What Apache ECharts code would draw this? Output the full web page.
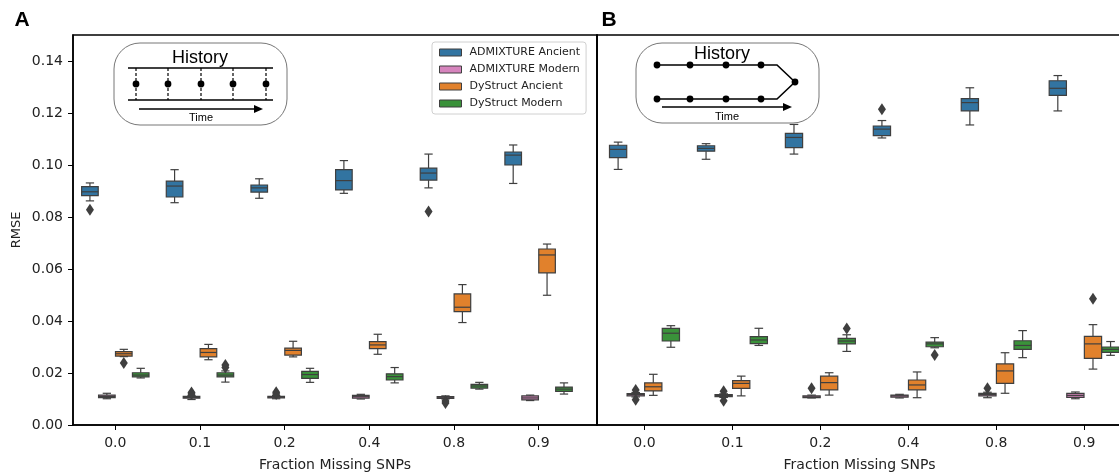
<!DOCTYPE html>
<html>
<head>
<meta charset="utf-8">
<script src="https://cdn.jsdelivr.net/npm/echarts@6/dist/echarts.min.js"></script>
<style>
html, body { margin: 0; padding: 0; background: #fff; }
#main { width: 1119px; height: 472px; }
</style>
</head>
<body>
<div id="main"></div>
<script>
var categories = ['0.0', '0.1', '0.2', '0.4', '0.8', '0.9'];
var yTicks = [0, 0.02, 0.04, 0.06, 0.08, 0.10, 0.12, 0.14];
var seriesNames = ['ADMIXTURE Ancient', 'ADMIXTURE Modern', 'DyStruct Ancient', 'DyStruct Modern'];
var colors = ['#3274a1', '#d684bd', '#e1812c', '#3a923a'];

// each row: [whisker low, q1, median, q3, whisker high], one row per category
// panel A
var admAncientA = [
    [0.0862, 0.0882, 0.0897, 0.0917, 0.0931],
    [0.0855, 0.0877, 0.0919, 0.0938, 0.0982],
    [0.0872, 0.0896, 0.0912, 0.0923, 0.0947],
    [0.0891, 0.0904, 0.0940, 0.0982, 0.1017],
    [0.0912, 0.0942, 0.0969, 0.0988, 0.1042],
    [0.0929, 0.1000, 0.1038, 0.1050, 0.1077]
];
var admModernA = [
    [0.0101, 0.0105, 0.0110, 0.0115, 0.0122],
    [0.0098, 0.0103, 0.0106, 0.0110, 0.0113],
    [0.0101, 0.0104, 0.0107, 0.0110, 0.0113],
    [0.0100, 0.0103, 0.0109, 0.0114, 0.0118],
    [0.0100, 0.0102, 0.0105, 0.0109, 0.0112],
    [0.0094, 0.0097, 0.0104, 0.0112, 0.0115]
];
var dysAncientA = [
    [0.0263, 0.0265, 0.0274, 0.0282, 0.0291],
    [0.0251, 0.0262, 0.0279, 0.0294, 0.0310],
    [0.0262, 0.0269, 0.0287, 0.0296, 0.0322],
    [0.0272, 0.0294, 0.0308, 0.0321, 0.0349],
    [0.0394, 0.0436, 0.0453, 0.0504, 0.0540],
    [0.0499, 0.0585, 0.0654, 0.0677, 0.0696]
];
var dysModernA = [
    [0.0181, 0.0185, 0.0192, 0.0201, 0.0218],
    [0.0165, 0.0185, 0.0192, 0.0201, 0.0208],
    [0.0164, 0.0179, 0.0194, 0.0206, 0.0218],
    [0.0162, 0.0173, 0.0186, 0.0197, 0.0221],
    [0.0138, 0.0142, 0.0150, 0.0156, 0.0164],
    [0.0119, 0.0129, 0.0138, 0.0146, 0.0162]
];
// outliers: [category index, value]
var admAncientOutA = [[0, 0.0828], [4, 0.0821]];
var admModernOutA = [[1, 0.0125], [1, 0.0119], [2, 0.0126], [2, 0.0119], [4, 0.0092], [4, 0.0085]];
var dysAncientOutA = [[0, 0.0238]];
var dysModernOutA = [[1, 0.0231], [1, 0.0221]];

// panel B
var admAncientB = [
    [0.0983, 0.1028, 0.1060, 0.1076, 0.1088],
    [0.1022, 0.1053, 0.1064, 0.1074, 0.1082],
    [0.1042, 0.1067, 0.1106, 0.1122, 0.1156],
    [0.1104, 0.1113, 0.1138, 0.1150, 0.1171],
    [0.1154, 0.1208, 0.1240, 0.1255, 0.1297],
    [0.1208, 0.1268, 0.1295, 0.1324, 0.1344]
];
var admModernB = [
    [0.0108, 0.0112, 0.0117, 0.0121, 0.0125],
    [0.0106, 0.0109, 0.0113, 0.0117, 0.0120],
    [0.0104, 0.0105, 0.0108, 0.0112, 0.0115],
    [0.0104, 0.0107, 0.0112, 0.0115, 0.0118],
    [0.0105, 0.0112, 0.0117, 0.0122, 0.0126],
    [0.0101, 0.0106, 0.0114, 0.0122, 0.0127]
];
var dysAncientB = [
    [0.0114, 0.0131, 0.0147, 0.0162, 0.0195],
    [0.0112, 0.0141, 0.0160, 0.0171, 0.0188],
    [0.0115, 0.0135, 0.0163, 0.0188, 0.0201],
    [0.0105, 0.0135, 0.0154, 0.0173, 0.0204],
    [0.0122, 0.0160, 0.0208, 0.0235, 0.0278],
    [0.0215, 0.0256, 0.0312, 0.0341, 0.0386]
];
var dysModernB = [
    [0.0299, 0.0323, 0.0353, 0.0372, 0.0382],
    [0.0306, 0.0313, 0.0327, 0.0340, 0.0372],
    [0.0283, 0.0312, 0.0323, 0.0333, 0.0347],
    [0.0297, 0.0301, 0.0312, 0.0319, 0.0336],
    [0.0259, 0.0291, 0.0306, 0.0324, 0.0363],
    [0.0268, 0.0279, 0.0291, 0.0300, 0.0321]
];
var admAncientOutB = [[3, 0.1214]];
var admModernOutB = [[0, 0.0135], [0, 0.0097], [1, 0.0130], [1, 0.0093], [2, 0.0141], [4, 0.0141]];
var dysAncientOutB = [[5, 0.0486]];
var dysModernOutB = [[2, 0.0371], [3, 0.0269]];

var hueOffsets = [-0.3, -0.1, 0.1, 0.3];
var boxWidth = 0.196;
var edge = '#3f3f3f';
var font = 'DejaVu Sans';

function renderBox(params, api) {
    var x = api.value(0);
    var lo = api.coord([x, api.value(1)]);
    var q1 = api.coord([x, api.value(2)]);
    var med = api.coord([x, api.value(3)]);
    var q3 = api.coord([x, api.value(4)]);
    var hi = api.coord([x, api.value(5)]);
    var half = api.size([boxWidth, 0])[0] / 2;
    var cx = med[0];
    var ln = { stroke: edge, lineWidth: 1.2 };
    return {
        type: 'group',
        children: [
            { type: 'line', shape: { x1: cx, y1: q3[1], x2: cx, y2: hi[1] }, style: ln },
            { type: 'line', shape: { x1: cx, y1: q1[1], x2: cx, y2: lo[1] }, style: ln },
            { type: 'line', shape: { x1: cx - half / 2, y1: hi[1], x2: cx + half / 2, y2: hi[1] }, style: ln },
            { type: 'line', shape: { x1: cx - half / 2, y1: lo[1], x2: cx + half / 2, y2: lo[1] }, style: ln },
            { type: 'rect', shape: { x: cx - half, y: q3[1], width: half * 2, height: q1[1] - q3[1] },
              style: { fill: api.visual('color'), stroke: edge, lineWidth: 1.2 } },
            { type: 'line', shape: { x1: cx - half, y1: med[1], x2: cx + half, y2: med[1] }, style: ln }
        ]
    };
}

function boxSeries(name, rows, k, axis) {
    return {
        name: name,
        type: 'custom',
        xAxisIndex: axis,
        yAxisIndex: axis,
        itemStyle: { color: colors[k] },
        renderItem: renderBox,
        encode: { x: 0, y: [1, 2, 3, 4, 5] },
        data: rows.map(function (r, i) { return [i + hueOffsets[k]].concat(r); }),
        z: 2
    };
}

function outlierSeries(pts, k, axis) {
    return {
        name: 'outliers',
        type: 'scatter',
        xAxisIndex: axis,
        yAxisIndex: axis,
        symbol: 'diamond',
        symbolSize: [8, 12],
        itemStyle: { color: edge, opacity: 1 },
        data: pts.map(function (p) { return [p[0] + hueOffsets[k], p[1]]; }),
        z: 3
    };
}

var panelA = [admAncientA, admModernA, dysAncientA, dysModernA];
var panelB = [admAncientB, admModernB, dysAncientB, dysModernB];
var outA = [admAncientOutA, admModernOutA, dysAncientOutA, dysModernOutA];
var outB = [admAncientOutB, admModernOutB, dysAncientOutB, dysModernOutB];

var series = [];
[panelA, panelB].forEach(function (panel, axis) {
    panel.forEach(function (rows, k) { series.push(boxSeries(seriesNames[k], rows, k, axis)); });
});
[outA, outB].forEach(function (panel, axis) {
    panel.forEach(function (pts, k) { series.push(outlierSeries(pts, k, axis)); });
});

var catIdx = categories.map(function (c, i) { return i; });

function xAxis(idx, min, max) {
    return {
        type: 'value', gridIndex: idx, min: min, max: max,
        name: 'Fraction Missing SNPs', nameLocation: 'middle', nameGap: 33,
        nameTextStyle: { fontFamily: font, fontSize: 14, color: '#222' },
        axisLine: { show: true, onZero: false, lineStyle: { color: '#000', width: 1.5 } },
        axisTick: { show: true, customValues: catIdx, length: 5, lineStyle: { color: '#000' } },
        axisLabel: { customValues: catIdx, margin: 11, fontFamily: font, fontSize: 14, color: '#222',
                     formatter: function (v) { return categories[Math.round(v)]; } },
        splitLine: { show: false }
    };
}

function yAxis(idx, labels) {
    return {
        type: 'value', gridIndex: idx, min: 0, max: 0.15,
        name: labels ? 'RMSE' : '', nameLocation: 'middle', nameGap: 50,
        nameTextStyle: { fontFamily: font, fontSize: 13, color: '#222' },
        axisLine: { show: true, onZero: false, lineStyle: { color: '#000', width: 1.5 } },
        axisTick: { show: labels, customValues: yTicks, length: 5, lineStyle: { color: '#000' } },
        axisLabel: { show: labels, customValues: yTicks, margin: 10, fontFamily: font, fontSize: 14, color: '#222',
                     formatter: function (v) { return v.toFixed(2); } },
        splitLine: { show: false }
    };
}

function frame(x, y, w, h) {
    return { type: 'rect', shape: { x: x, y: y, width: w, height: h, r: 26 },
             style: { fill: '#fff', stroke: '#777', lineWidth: 1 }, z: 10 };
}
function txt(x, y, s, size, bold) {
    return { type: 'text', x: x, y: y, z: 11,
             style: { text: s, fontFamily: 'Liberation Sans', fontSize: size, fontWeight: bold ? 'bold' : 'normal',
                      fill: '#000', align: 'center', verticalAlign: 'middle' } };
}
function seg(x1, y1, x2, y2, dash) {
    return { type: 'line', shape: { x1: x1, y1: y1, x2: x2, y2: y2 }, z: 11,
             style: { stroke: '#000', lineWidth: dash ? 1.2 : 1.6, lineDash: dash ? [3, 2] : null } };
}
function dot(x, y) {
    return { type: 'circle', shape: { cx: x, cy: y, r: 3.4 }, style: { fill: '#000' }, z: 11 };
}
function arrow(x1, x2, y) {
    return [seg(x1, y, x2 - 6, y),
            { type: 'polygon', shape: { points: [[x2, y], [x2 - 9, y - 4], [x2 - 9, y + 4]] }, style: { fill: '#000' }, z: 11 }];
}

var graphics = [];
// inset A
graphics.push(frame(114, 43, 173, 82));
graphics.push(txt(200, 58, 'History', 18));
graphics.push(seg(128, 68, 273, 68), seg(128, 100, 273, 100));
[136, 168, 201, 233, 266].forEach(function (x) {
    graphics.push(seg(x, 68, x, 100, true), dot(x, 84));
});
graphics = graphics.concat(arrow(139, 263, 109));
graphics.push(txt(201, 118, 'Time', 11));
// inset B
graphics.push(frame(636, 43, 183, 80));
graphics.push(txt(722, 54, 'History', 18));
graphics.push({ type: 'polyline', shape: { points: [[657, 65], [777, 65], [795, 82]] }, style: { stroke: '#000', lineWidth: 1.6, fill: null }, z: 11 });
graphics.push({ type: 'polyline', shape: { points: [[657, 99], [777, 99], [795, 82]] }, style: { stroke: '#000', lineWidth: 1.6, fill: null }, z: 11 });
[657, 690, 726, 761].forEach(function (x) { graphics.push(dot(x, 65), dot(x, 99)); });
graphics.push(dot(795, 82));
graphics = graphics.concat(arrow(662, 792, 107));
graphics.push(txt(727, 117, 'Time', 11));
// panel letters
graphics.push(txt(22, 20, 'A', 21, true));
graphics.push(txt(609, 20, 'B', 21, true));

var myChart = echarts.init(document.getElementById('main'));

var options = {
    animation: false,
    backgroundColor: '#fff',
    grid: [
        { left: 73, top: 35, width: 524, height: 390, show: true, borderColor: '#000', borderWidth: 1.5, outerBoundsMode: 'none' },
        { left: 597, top: 35, width: 525, height: 390, show: true, borderColor: '#000', borderWidth: 1.5, outerBoundsMode: 'none' }
    ],
    xAxis: [xAxis(0, -0.5, 5.69), xAxis(1, -0.54, 5.43)],
    yAxis: [yAxis(0, true), yAxis(1, false)],
    legend: {
        data: seriesNames.map(function (n, k) {
            return { name: n, icon: 'rect', itemStyle: { color: colors[k], borderColor: edge, borderWidth: 1 } };
        }),
        orient: 'vertical', left: 432, top: 42,
        itemWidth: 22, itemHeight: 7, itemGap: 4,
        padding: [4, 6, 4, 7],
        backgroundColor: '#fff', borderColor: '#d0d0d0', borderWidth: 1, borderRadius: 3,
        textStyle: { fontFamily: font, fontSize: 11, color: '#222', lineHeight: 13, padding: [0, 0, 0, 3] }
    },
    graphic: graphics,
    series: series
};

myChart.setOption(options);
</script>
</body>
</html>
